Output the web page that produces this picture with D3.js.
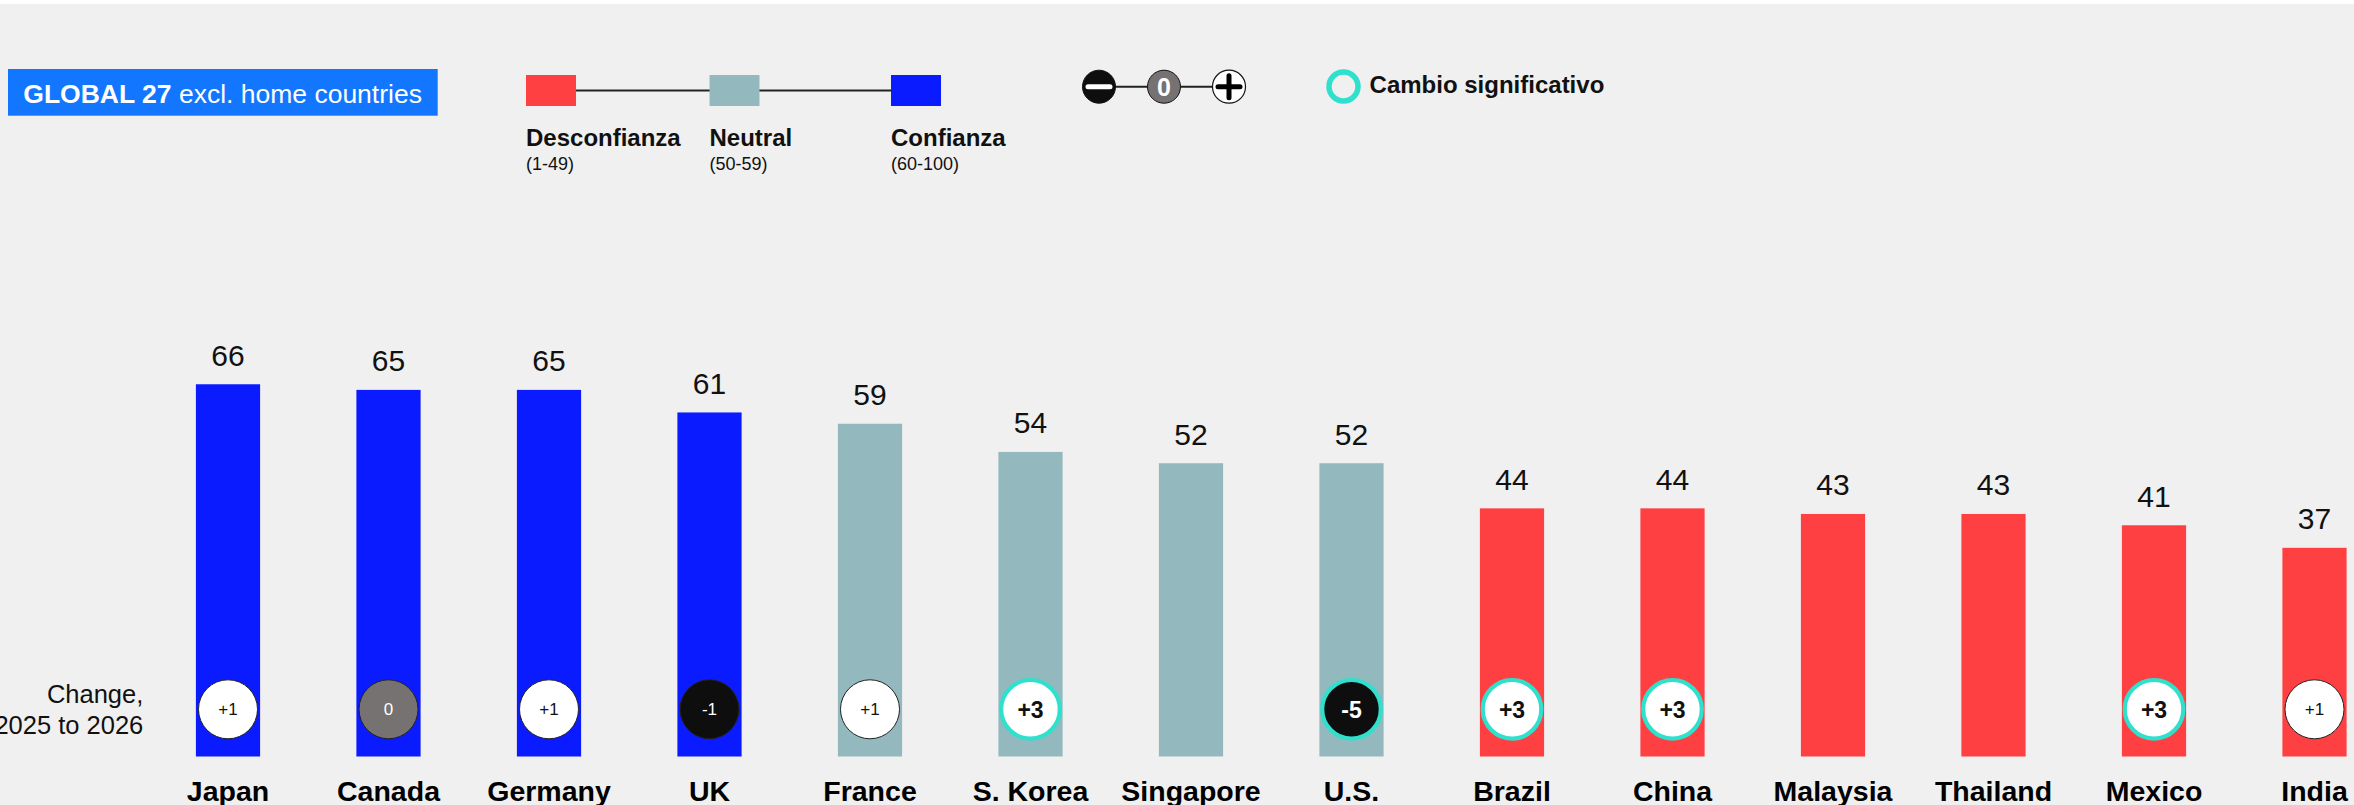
<!DOCTYPE html>
<html>
<head>
<meta charset="utf-8">
<script src="https://cdn.jsdelivr.net/npm/d3@7"></script>
<style>
  html, body { margin: 0; padding: 0; background: #ffffff; }
  svg { display: block; font-family: "Liberation Sans", Arial, sans-serif; }
</style>
</head>
<body>
<svg id="chart" width="2354" height="805"></svg>
<script>
// Trust index, Global 27 excluding home countries
const countries = ["Japan", "Canada", "Germany", "UK", "France", "S. Korea", "Singapore",
                   "U.S.", "Brazil", "China", "Malaysia", "Thailand", "Mexico", "India"];
const trustScores = [66, 65, 65, 61, 59, 54, 52, 52, 44, 44, 43, 43, 41, 37];
// Change 2025 -> 2026 (null = no comparison available)
const changes = [1, 0, 1, -1, 1, 3, null, -5, 3, 3, null, null, 3, 1];
const significant = [false, false, false, false, false, true, false, true, true, true, false, false, true, false];

// Legend content
const zoneLabels = ["Desconfianza", "Neutral", "Confianza"];
const zoneRanges = ["(1-49)", "(50-59)", "(60-100)"];

const COLORS = { distrust: "#ff4042", neutral: "#93b9bf", trust: "#0a1bff" };
const TEAL = "#2fe0cd";

function zoneColor(v) {
  if (v >= 60) return COLORS.trust;
  if (v >= 50) return COLORS.neutral;
  return COLORS.distrust;
}

const svg = d3.select("#chart");
const W = 2354, H = 805;

// Background
svg.append("rect").attr("x", 0).attr("y", 0).attr("width", W).attr("height", H).attr("fill", "#ffffff");
svg.append("rect").attr("x", 0).attr("y", 4).attr("width", W).attr("height", H - 4).attr("fill", "#f0f0f0");

// Scales
const x = d3.scaleBand()
  .domain(countries)
  .range([147.75, 2394.75])
  .paddingInner(0.6)
  .paddingOuter(0.3);

const y = d3.scaleLinear().domain([0, 100]).range([756.5, 192.5]);

const data = countries.map((c, i) => ({
  country: c, value: trustScores[i], change: changes[i], sig: significant[i]
}));

// Bars
svg.append("g").selectAll("rect")
  .data(data)
  .join("rect")
  .attr("x", d => x(d.country))
  .attr("y", d => y(d.value))
  .attr("width", x.bandwidth())
  .attr("height", d => y(0) - y(d.value))
  .attr("fill", d => zoneColor(d.value));

// Value labels
svg.append("g").selectAll("text")
  .data(data)
  .join("text")
  .attr("x", d => x(d.country) + x.bandwidth() / 2)
  .attr("y", d => y(d.value) - 18.5)
  .attr("text-anchor", "middle")
  .attr("font-size", 30)
  .attr("fill", "#111")
  .text(d => d.value);

// Country labels (x axis)
const xAxis = d3.axisBottom(x).tickSize(0).tickPadding(0);
const axisG = svg.append("g").attr("transform", "translate(0,781)").call(xAxis);
axisG.select(".domain").remove();
axisG.selectAll("text")
  .attr("dy", null)
  .attr("y", 20)
  .attr("font-family", "'Liberation Sans', Arial, sans-serif")
  .attr("font-size", 28.5)
  .attr("font-weight", "bold")
  .attr("fill", "#000");

// Change markers
const cy = 709.3;
const changeData = data.filter(d => d.change !== null);
const markers = svg.append("g").selectAll("g")
  .data(changeData)
  .join("g")
  .attr("transform", d => `translate(${x(d.country) + x.bandwidth() / 2},${cy})`);

markers.append("circle")
  .attr("r", d => d.sig ? 29.3 : 29.5)
  .attr("fill", d => d.change > 0 ? "#ffffff" : (d.change < 0 ? "#0e0e0e" : "#767271"))
  .attr("stroke", d => d.sig ? TEAL : "#222")
  .attr("stroke-width", d => d.sig ? 4.2 : 1);

markers.append("text")
  .attr("text-anchor", "middle")
  .attr("dy", d => d.sig ? "0.36em" : "0.36em")
  .attr("font-size", d => d.sig ? 23 : 17)
  .attr("font-weight", d => d.sig ? "bold" : "normal")
  .attr("fill", d => d.change > 0 ? "#111" : "#ffffff")
  .text(d => d.change > 0 ? "+" + d.change : String(d.change));

// Row caption
const cap = svg.append("text")
  .attr("x", 143.3)
  .attr("text-anchor", "end")
  .attr("font-size", 25.5)
  .attr("fill", "#111");
cap.append("tspan").attr("x", 143.3).attr("y", 702.7).text("Change,");
cap.append("tspan").attr("x", 143.3).attr("y", 734).text("2025 to 2026");

// Title badge
svg.append("rect")
  .attr("x", 8).attr("y", 69).attr("width", 429.7).attr("height", 46.7)
  .attr("fill", "#1276fe");
const badge = svg.append("text")
  .attr("x", 23.3).attr("y", 103.3)
  .attr("font-size", 26.5)
  .attr("fill", "#ffffff");
badge.append("tspan").attr("font-weight", "bold").text("GLOBAL 27");
badge.append("tspan").text(" excl. home countries");

// Zone legend
const zoneX = [526, 709.5, 891];
const zoneFill = [COLORS.distrust, COLORS.neutral, COLORS.trust];
const sq = 50;
svg.append("line")
  .attr("x1", zoneX[0] + sq / 2).attr("x2", zoneX[2] + sq / 2)
  .attr("y1", 90.5).attr("y2", 90.5)
  .attr("stroke", "#222").attr("stroke-width", 2);
const zl = svg.append("g").selectAll("g")
  .data(zoneLabels.map((l, i) => ({ label: l, range: zoneRanges[i], x: zoneX[i], fill: zoneFill[i] })))
  .join("g");
zl.append("rect")
  .attr("x", d => d.x).attr("y", 75).attr("width", sq).attr("height", 31)
  .attr("fill", d => d.fill);
zl.append("text")
  .attr("x", d => d.x).attr("y", 146)
  .attr("font-size", 24).attr("font-weight", "bold").attr("fill", "#111")
  .text(d => d.label);
zl.append("text")
  .attr("x", d => d.x).attr("y", 169.5)
  .attr("font-size", 18).attr("fill", "#111")
  .text(d => d.range);

// Change-direction legend
const lcy = 86.7;
const lx = [1099, 1164, 1229];
svg.append("line")
  .attr("x1", lx[0]).attr("x2", lx[2]).attr("y1", lcy).attr("y2", lcy)
  .attr("stroke", "#222").attr("stroke-width", 2);
svg.append("circle").attr("cx", lx[0]).attr("cy", lcy).attr("r", 16.5)
  .attr("fill", "#0e0e0e").attr("stroke", "#111").attr("stroke-width", 1);
svg.append("line")
  .attr("x1", lx[0] - 11).attr("x2", lx[0] + 11).attr("y1", lcy).attr("y2", lcy)
  .attr("stroke", "#ffffff").attr("stroke-width", 5).attr("stroke-linecap", "round");
svg.append("circle").attr("cx", lx[1]).attr("cy", lcy).attr("r", 16.5)
  .attr("fill", "#767271").attr("stroke", "#111").attr("stroke-width", 1);
svg.append("text").attr("x", lx[1]).attr("y", lcy).attr("dy", "0.36em")
  .attr("text-anchor", "middle").attr("font-size", 25).attr("font-weight", "bold")
  .attr("fill", "#ffffff").text("0");
svg.append("circle").attr("cx", lx[2]).attr("cy", lcy).attr("r", 16.5)
  .attr("fill", "#ffffff").attr("stroke", "#111").attr("stroke-width", 1.2);
svg.append("line")
  .attr("x1", lx[2] - 11).attr("x2", lx[2] + 11).attr("y1", lcy).attr("y2", lcy)
  .attr("stroke", "#000").attr("stroke-width", 5).attr("stroke-linecap", "round");
svg.append("line")
  .attr("x1", lx[2]).attr("x2", lx[2]).attr("y1", lcy - 11).attr("y2", lcy + 11)
  .attr("stroke", "#000").attr("stroke-width", 5).attr("stroke-linecap", "round");

// Significance legend
svg.append("circle").attr("cx", 1343.5).attr("cy", 86.5).attr("r", 14.5)
  .attr("fill", "none").attr("stroke", TEAL).attr("stroke-width", 5.5);
svg.append("text").attr("x", 1369.6).attr("y", 93.3)
  .attr("font-size", 24).attr("font-weight", "bold").attr("fill", "#111")
  .text("Cambio significativo");
</script>
</body>
</html>
